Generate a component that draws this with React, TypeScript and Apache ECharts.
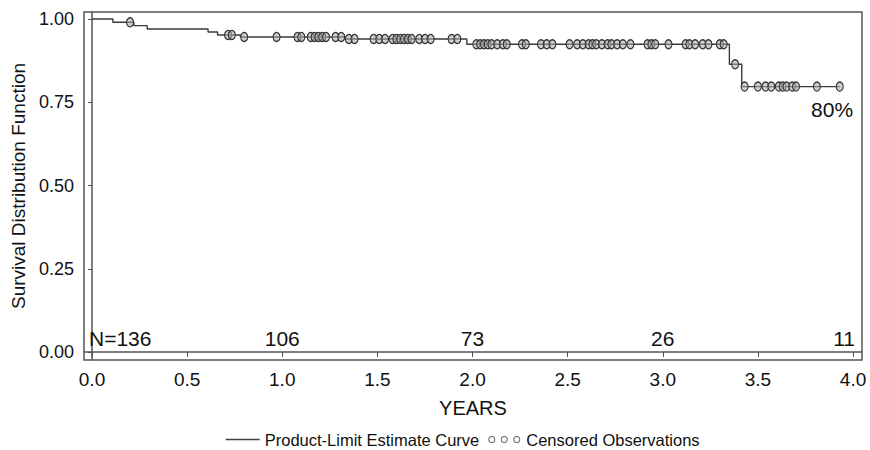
import React, { useEffect, useRef } from "react";
import * as echarts from "echarts";

// Kaplan-Meier event times (years) and survival after each event
const eventTimes = [0.0, 0.11, 0.22, 0.29, 0.61, 0.66, 0.78, 1.33, 1.97, 3.35, 3.415];
const survival = [1.0, 0.99, 0.98, 0.97, 0.961, 0.952, 0.946, 0.94, 0.924, 0.864, 0.797];

// Censored observation times (years)
const censoredTimes = [
  0.2, 0.715, 0.735, 0.8, 0.97, 1.08, 1.1, 1.15, 1.17, 1.19, 1.21, 1.23, 1.28, 1.31, 1.35, 1.38,
  1.48, 1.51, 1.54, 1.58, 1.6, 1.62, 1.64, 1.66, 1.68, 1.72, 1.75, 1.78, 1.89, 1.92,
  2.02, 2.04, 2.06, 2.08, 2.1, 2.13, 2.16, 2.18, 2.26, 2.28, 2.36, 2.39, 2.42, 2.51, 2.55,
  2.58, 2.61, 2.63, 2.65, 2.68, 2.71, 2.73, 2.76, 2.79, 2.83, 2.92, 2.94, 2.96, 3.03, 3.12,
  3.14, 3.17, 3.21, 3.24, 3.3, 3.32, 3.38, 3.43, 3.5, 3.54, 3.57, 3.61, 3.63, 3.65, 3.68,
  3.7, 3.81, 3.93,
];

// Numbers at risk
const riskTimes = [0, 1, 2, 3, 4];
const riskCounts = [136, 106, 73, 26, 11];

// Axis ticks
const xTicks = [0, 0.5, 1, 1.5, 2, 2.5, 3, 3.5, 4];
const yTicks = [0, 0.25, 0.5, 0.75, 1];

const FONT = "'Liberation Sans', Arial, sans-serif";

function survivalAt(t: number): number {
  let s = survival[0];
  for (let i = 0; i < eventTimes.length; i++) {
    if (eventTimes[i] <= t) s = survival[i];
  }
  return s;
}

const ringPath =
  "path://M0,3.5a3.5,3.5 0 1,0 7,0a3.5,3.5 0 1,0 -7,0Z M1,3.5a2.5,2.5 0 1,1 5,0a2.5,2.5 0 1,1 -5,0Z" +
  "M12.5,3.5a3.5,3.5 0 1,0 7,0a3.5,3.5 0 1,0 -7,0Z M13.5,3.5a2.5,2.5 0 1,1 5,0a2.5,2.5 0 1,1 -5,0Z" +
  "M25,3.5a3.5,3.5 0 1,0 7,0a3.5,3.5 0 1,0 -7,0Z M26,3.5a2.5,2.5 0 1,1 5,0a2.5,2.5 0 1,1 -5,0Z";

export default function App() {
  const ref = useRef<HTMLDivElement>(null);
  useEffect(() => {
    if (!ref.current) return;
    const chart = echarts.init(ref.current, undefined, { renderer: "svg" });
    const lastT = censoredTimes[censoredTimes.length - 1];
    const lastS = survival[survival.length - 1];
    const lineData = eventTimes.map((t, i) => [t, survival[i]]);
    lineData.push([lastT, survivalAt(lastT)]);
    const censData = censoredTimes.map((t) => [t, survivalAt(t)]);
    const riskData = riskTimes.map((t, i) => ({
      value: [t, 0.042],
      name: (i === 0 ? "N=" : "") + riskCounts[i],
      label: {
        align: i === 0 ? "left" : i === riskTimes.length - 1 ? "right" : "center",
        offset: i === 0 ? [-3, 0] : i === riskTimes.length - 1 ? [2, 0] : [0, 0],
      },
    }));

    const textLabel = {
      show: true,
      position: "top",
      distance: 0,
      verticalAlign: "middle",
      formatter: (p: any) => p.name,
      fontSize: 21,
      color: "#111",
      fontFamily: FONT,
    };

    chart.setOption({
      animation: false,
      backgroundColor: "#fff",
      grid: {
        left: 84,
        top: 12,
        right: 8,
        bottom: 90,
        show: true,
        borderColor: "#555",
        borderWidth: 1.5,
        backgroundColor: "transparent",
      },
      xAxis: {
        type: "value",
        min: -0.042,
        max: 4.047,
        name: "YEARS",
        nameLocation: "middle",
        nameGap: 38,
        nameTextStyle: { fontSize: 20, color: "#111", fontFamily: FONT },
        axisLine: { show: true, lineStyle: { color: "#555", width: 1.5 } },
        axisTick: { show: true, length: 5, customValues: xTicks, lineStyle: { color: "#555" } },
        axisLabel: {
          customValues: xTicks,
          formatter: (v: number) => v.toFixed(1),
          fontSize: 19,
          color: "#111",
          fontFamily: FONT,
          margin: 10,
        },
        splitLine: { show: false },
      },
      yAxis: {
        type: "value",
        min: -0.024,
        max: 1.021,
        name: "Survival Distribution Function",
        nameLocation: "middle",
        nameGap: 52,
        nameTextStyle: { fontSize: 19, color: "#111", fontFamily: FONT },
        axisLine: { show: true, lineStyle: { color: "#555", width: 1.5 } },
        axisTick: { show: true, length: 4, customValues: yTicks, lineStyle: { color: "#555" } },
        axisLabel: {
          customValues: yTicks,
          formatter: (v: number) => v.toFixed(2),
          fontSize: 18,
          color: "#111",
          fontFamily: FONT,
          margin: 10,
        },
        splitLine: { show: false },
      },
      legend: {
        left: 225,
        top: 431,
        padding: 0,
        itemWidth: 34,
        itemHeight: 7,
        itemGap: 9,
        textStyle: { fontSize: 16.5, color: "#111", fontFamily: FONT },
        data: [
          {
            name: "Product-Limit Estimate Curve",
            itemStyle: { color: "transparent", borderWidth: 0, opacity: 0 },
            lineStyle: { color: "#444", width: 1.4 },
          },
          {
            name: "Censored Observations",
            icon: ringPath,
            itemStyle: { color: "#666", borderWidth: 0, opacity: 1 },
          },
        ],
      },
      series: [
        {
          name: "Product-Limit Estimate Curve",
          type: "line",
          step: "end",
          symbol: "none",
          data: lineData,
          lineStyle: { color: "#3a3a3a", width: 1.4 },
          itemStyle: { color: "#3a3a3a" },
          silent: true,
          z: 2,
        },
        {
          name: "Censored Observations",
          type: "scatter",
          symbol: "circle",
          symbolSize: [7, 9],
          data: censData,
          itemStyle: {
            color: "rgba(170,170,170,0.55)",
            borderColor: "#333",
            borderWidth: 1.2,
            opacity: 1,
          },
          silent: true,
          z: 3,
        },
        {
          name: "atRisk",
          type: "scatter",
          symbolSize: 0,
          data: riskData,
          silent: true,
          itemStyle: { color: "#111", opacity: 1 },
          label: textLabel,
        },
        {
          name: "finalPct",
          type: "scatter",
          symbolSize: 0,
          data: [{ value: [xTicks[xTicks.length - 1], lastS], name: Math.round(lastS * 100) + "%" }],
          silent: true,
          itemStyle: { color: "#111", opacity: 1 },
          label: { ...textLabel, align: "right", offset: [0, 23] },
        },
      ],
    });
    return () => chart.dispose();
  }, []);
  return (
    <div
      ref={ref}
      style={{ position: "fixed", left: 0, top: 0, width: 870, height: 450, background: "#fff" }}
    />
  );
}
